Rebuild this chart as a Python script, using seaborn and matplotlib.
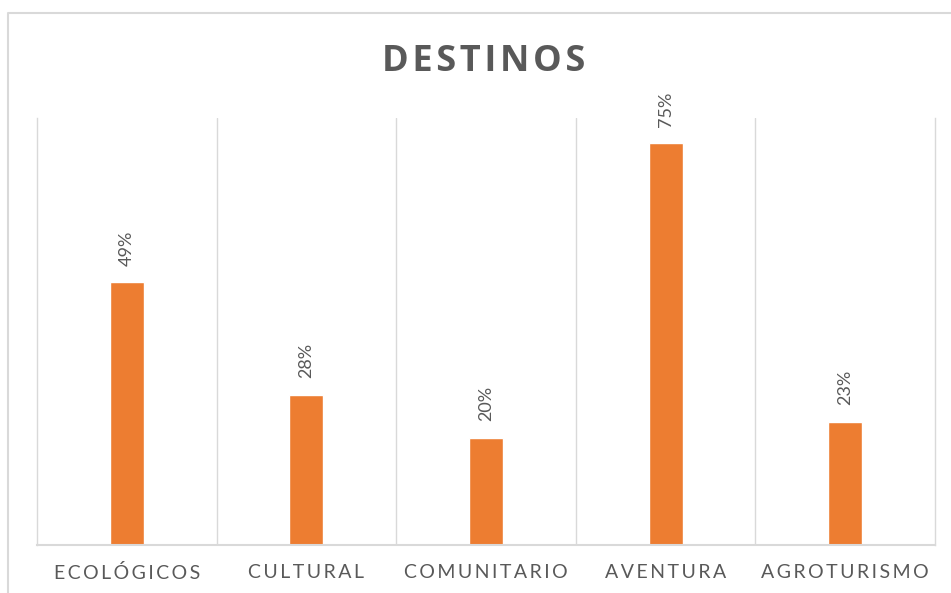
import matplotlib
matplotlib.use("Agg")
import matplotlib.pyplot as plt
import seaborn as sns
import pandas as pd
from matplotlib.lines import Line2D

categories = ["ECOLÓGICOS", "CULTURAL", "COMUNITARIO", "AVENTURA", "AGROTURISMO"]
values = [49, 28, 20, 75, 23]
title = "DESTINOS"

ORANGE = "#ED7D31"
GRAY_TXT = "#595959"
GRID = "#D9D9D9"

sns.set_theme(style="white")
plt.rcParams["font.family"] = ["Lato", "DejaVu Sans"]

def spaced(s, sep="\u2009\u200a"):
    return sep.join(list(s))

df = pd.DataFrame({"cat": categories, "val": [v / 100 for v in values]})

fig = plt.figure(figsize=(9.51, 5.93), dpi=100)
ax = fig.add_axes([37 / 951, 48 / 593, (935 - 37) / 951, (545 - 118) / 593])

sns.barplot(data=df, x="cat", y="val", color=ORANGE, width=0.19, ax=ax,
            saturation=1, errorbar=None)

ax.set_ylim(0, 0.797)
ax.set_xlim(-0.5, len(categories) - 0.5)
ax.set_yticks([])
ax.set_xlabel("")
ax.set_ylabel("")
ax.set_xticks(range(len(categories)))
ax.set_xticklabels([spaced(c, "\u2009") for c in categories], fontsize=14, color=GRAY_TXT)
ax.tick_params(axis="x", length=0, pad=14)

# vertical separators between categories
ax.set_xticks([i + 0.5 for i in range(len(categories) - 1)], minor=True)
ax.tick_params(axis="x", which="minor", length=0)
ax.grid(True, axis="x", which="minor", color=GRID, linewidth=1)
ax.grid(False, axis="x", which="major")
ax.grid(False, axis="y")

for side in ["left", "right"]:
    ax.spines[side].set_color(GRID)
    ax.spines[side].set_linewidth(1)
ax.spines["top"].set_visible(False)
ax.spines["bottom"].set_color(GRID)
ax.spines["bottom"].set_linewidth(1.5)

for cont in ax.containers:
    ax.bar_label(cont, labels=[f"{v}%" for v in values], rotation=90,
                 padding=12, fontsize=13, color=GRAY_TXT)

fig.text(484 / 951, 1 - 62 / 593, spaced(title, "\u200a"), ha="center", va="center",
         fontsize=26, fontweight="bold", color=GRAY_TXT, family=["Open Sans", "DejaVu Sans"])

# chart border (cropped)
fig.add_artist(Line2D([8 / 951, 8 / 951, 1.0], [0.0, 1 - 13 / 593, 1 - 13 / 593],
                      transform=fig.transFigure, color=GRID, linewidth=1.5))

fig.savefig("out.png", dpi=100)
